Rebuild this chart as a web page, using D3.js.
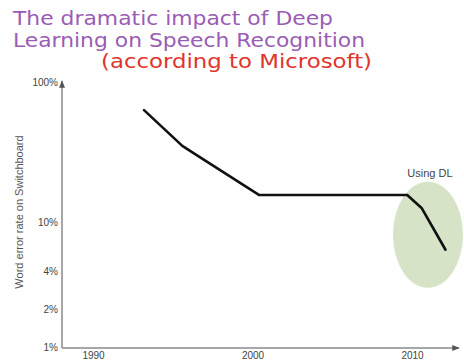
<!DOCTYPE html>
<html><head><meta charset="utf-8">
<script src="https://cdn.jsdelivr.net/npm/d3@7"></script>
<style>html,body{margin:0;padding:0;background:#fff;}svg{display:block;}</style>
</head><body>
<script>
const titleLines = ["The dramatic impact of Deep", "Learning on Speech Recognition", "(according to Microsoft)"];
const years = [1993.2, 1995.6, 1996.5, 2000.4, 2009.7, 2010.6, 2012.1];
const wer = [63, 35, 30, 15.6, 15.6, 12.6, 6.0];
const yTicks = [100, 10, 4, 2, 1];
const xTicks = [1990, 2000, 2010];
const dlRegion = {year: 2011.0, value: 7.9, label: "Using DL"};

const W = 464, H = 363;
const svg = d3.select("body").append("svg").attr("width", W).attr("height", H);

const x = d3.scaleLinear().domain([1990, 2010]).range([93, 412]);
const y = d3.scaleLog().domain([1, 10, 100]).range([347, 222, 82]);

// Title
const tf = "'DejaVu Sans', sans-serif";
const tspec = [
  {x: 13, y: 25, len: 320, c: "#9a5cb4"},
  {x: 13, y: 47, len: 352, c: "#9a5cb4"},
  {x: 101, y: 68, len: 271, c: "#e0342c"}
];
titleLines.forEach((t, i) => {
  svg.append("text").attr("x", tspec[i].x).attr("y", tspec[i].y)
    .attr("font-family", tf).attr("font-size", 19)
    .attr("fill", tspec[i].c)
    .attr("textLength", tspec[i].len).attr("lengthAdjust", "spacingAndGlyphs")
    .text(t);
});

// DL ellipse
svg.append("ellipse")
  .attr("cx", x(dlRegion.year)).attr("cy", y(dlRegion.value))
  .attr("rx", 35).attr("ry", 53)
  .attr("fill", "#d6e3c6");
svg.append("text").attr("x", x(dlRegion.year) + 2).attr("y", 177)
  .attr("text-anchor", "middle").attr("font-family", "'Liberation Sans', Arial, sans-serif")
  .attr("font-size", 11).attr("fill", "#444").text(dlRegion.label);

// Axes lines with arrows
const defs = svg.append("defs");
defs.append("marker").attr("id", "arr").attr("viewBox", "0 0 10 10")
  .attr("refX", 9).attr("refY", 5).attr("markerWidth", 5).attr("markerHeight", 5)
  .attr("orient", "auto")
  .append("path").attr("d", "M0,1L10,5L0,9Z").attr("fill", "#555");

const x0 = 62, yb = y(1) + 1;
svg.append("line").attr("x1", x0).attr("y1", yb).attr("x2", x0).attr("y2", y(100) - 1)
  .attr("stroke", "#8a8a8a").attr("stroke-width", 1.5).attr("marker-end", "url(#arr)");
svg.append("line").attr("x1", x0).attr("y1", yb).attr("x2", 459).attr("y2", yb)
  .attr("stroke", "#8a8a8a").attr("stroke-width", 1.5).attr("marker-end", "url(#arr)");

// Y axis ticks
const yAxis = d3.axisLeft(y).tickValues(yTicks).tickSize(0).tickPadding(3)
  .tickFormat(d => d + "%");
const gy = svg.append("g").attr("transform", `translate(${x0 - 1},0)`).call(yAxis);
gy.select(".domain").remove();
gy.selectAll("text").attr("font-family", "'Liberation Sans', Arial, sans-serif")
  .attr("font-size", 10).attr("fill", "#444");

// X axis ticks
const xAxis = d3.axisBottom(x).tickValues(xTicks).tickSize(0).tickPadding(4)
  .tickFormat(d3.format("d"));
const gx = svg.append("g").attr("transform", `translate(0,${yb})`).call(xAxis);
gx.select(".domain").remove();
gx.selectAll("text").attr("font-family", "'Liberation Sans', Arial, sans-serif")
  .attr("font-size", 10).attr("fill", "#444");

// Y axis title
svg.append("text").attr("transform", "translate(23,212) rotate(-90)")
  .attr("text-anchor", "middle").attr("font-family", "'Liberation Sans', Arial, sans-serif")
  .attr("font-size", 11).attr("fill", "#555").text("Word error rate on Switchboard");

// Line
const pts = years.map((yr, i) => [yr, wer[i]]);
svg.append("path").datum(pts)
  .attr("fill", "none").attr("stroke", "#111").attr("stroke-width", 2.6)
  .attr("stroke-linejoin", "round").attr("stroke-linecap", "round")
  .attr("d", d3.line().x(d => x(d[0])).y(d => y(d[1])));
</script>
</body></html>
